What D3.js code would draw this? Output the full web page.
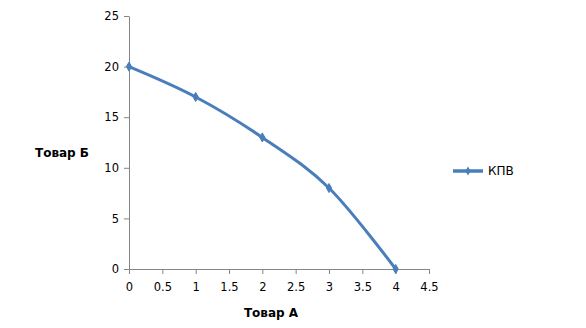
<!DOCTYPE html>
<html>
<head>
<meta charset="utf-8">
<script src="https://cdn.jsdelivr.net/npm/d3@7"></script>
<style>
  html, body { margin: 0; padding: 0; background: #fff; }
  svg { display: block; font-family: "DejaVu Sans", sans-serif; }
</style>
</head>
<body>
<svg id="chart" width="586" height="328"></svg>
<script>
// Production possibilities frontier
const goodA = [0, 1, 2, 3, 4];
const goodB = [20, 17, 13, 8, 0];
const xTicks = [0, 0.5, 1, 1.5, 2, 2.5, 3, 3.5, 4, 4.5];
const yTicks = [0, 5, 10, 15, 20, 25];
const seriesName = "КПВ";
const xTitle = "Товар А";
const yTitle = "Товар Б";

const svg = d3.select("#chart");
const plot = { left: 129, right: 429, top: 16, bottom: 269 };
const axisColor = "#868686";
const lineColor = "#4a7ebb";

const x = d3.scaleLinear().domain([0, 4.5]).range([plot.left, plot.right]);
const y = d3.scaleLinear().domain([0, 25]).range([plot.bottom, plot.top]);

const fmt = d => String(d);

// X axis
const gx = svg.append("g")
  .attr("transform", `translate(0,${plot.bottom})`)
  .call(d3.axisBottom(x).tickValues(xTicks).tickFormat(fmt).tickSize(5).tickSizeOuter(0));
// Y axis
const gy = svg.append("g")
  .attr("transform", `translate(${plot.left},0)`)
  .call(d3.axisLeft(y).tickValues(yTicks).tickFormat(fmt).tickSize(5).tickSizeOuter(0));

[gx, gy].forEach(g => {
  g.select(".domain").attr("stroke", axisColor).attr("stroke-width", 1);
  g.selectAll(".tick line").attr("stroke", axisColor);
  g.selectAll(".tick text").attr("fill", "#000").style("font-size", "11.5px")
    .style("font-family", "DejaVu Sans, sans-serif");
});
gx.selectAll(".tick text").attr("dy", "1.2em");
gy.selectAll(".tick text").attr("x", -10);

// Axis titles
svg.append("text")
  .attr("x", 271)
  .attr("y", 317)
  .attr("text-anchor", "middle")
  .style("font-size", "12px").style("font-weight", "bold")
  .text(xTitle);
svg.append("text")
  .attr("x", 62)
  .attr("y", 157)
  .attr("text-anchor", "middle")
  .style("font-size", "12px").style("font-weight", "bold")
  .text(yTitle);

// Smoothed frontier
const pts = goodA.map((a, i) => [a, goodB[i]]);
const line = d3.line()
  .x(d => x(d[0]))
  .y(d => y(d[1]))
  .curve(d3.curveCardinal.tension(0));

svg.append("path")
  .datum(pts)
  .attr("fill", "none")
  .attr("stroke", lineColor)
  .attr("stroke-width", 3)
  .attr("stroke-linejoin", "round")
  .attr("d", line);

const diamond = d3.symbol().type(d3.symbolDiamond).size(24);
svg.append("g").selectAll("path")
  .data(pts)
  .join("path")
  .attr("transform", d => `translate(${x(d[0])},${y(d[1])})`)
  .attr("d", diamond)
  .attr("fill", lineColor)
  .attr("stroke", lineColor);

// Legend
const lg = svg.append("g").attr("transform", "translate(453,171)");
lg.append("line")
  .attr("x1", 0).attr("x2", 30)
  .attr("stroke", lineColor).attr("stroke-width", 3.5);
lg.append("path")
  .attr("transform", "translate(15,0)")
  .attr("d", diamond)
  .attr("fill", lineColor);
lg.append("text")
  .attr("x", 35).attr("y", 4)
  .style("font-size", "12px")
  .text(seriesName);
</script>
</body>
</html>
